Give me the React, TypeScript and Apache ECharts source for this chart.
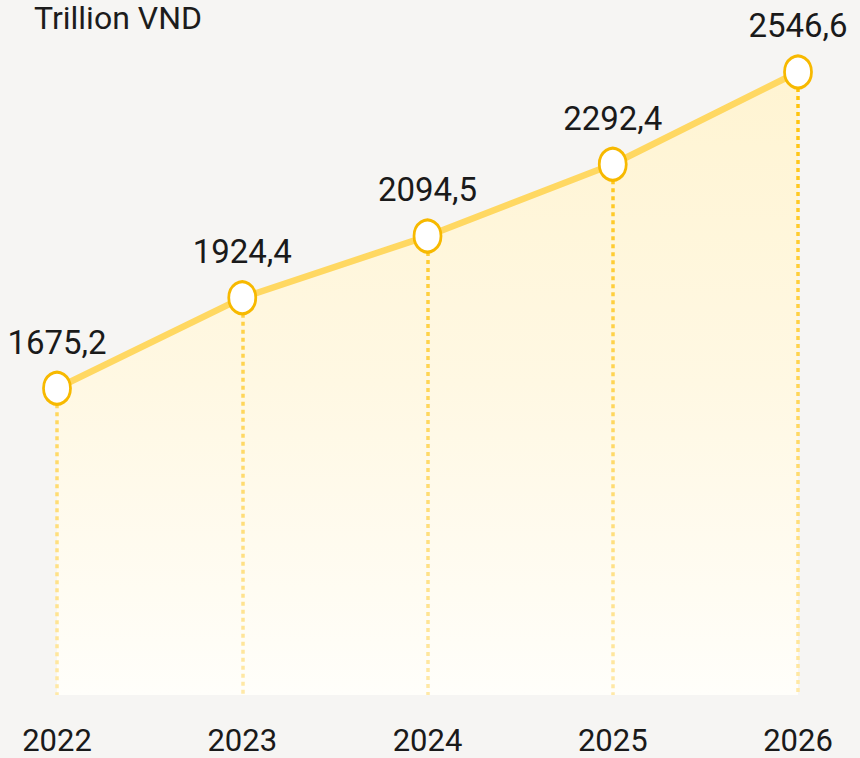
import React, { useEffect, useRef } from "react";
import * as echarts from "echarts";

const years = ["2022", "2023", "2024", "2025", "2026"];
const values = [1675.2, 1924.4, 2094.5, 2292.4, 2546.6];
const unitLabel = "Trillion VND";
const yMin = 830;
const yMax = 2600;

const FONT = "Roboto, 'Open Sans', sans-serif";

export default function App() {
  const ref = useRef<HTMLDivElement>(null);
  useEffect(() => {
    document.body.style.margin = "0";
    const chart = echarts.init(ref.current!, null, { renderer: "svg" });
    const fmt = (v: number) => v.toFixed(1).replace(".", ",");
    chart.setOption({
      animation: false,
      backgroundColor: "#F6F5F3",
      title: {
        text: unitLabel,
        left: 34,
        top: 0,
        padding: 0,
        textStyle: { fontFamily: FONT, fontSize: 32, lineHeight: 36, fontWeight: 400, color: "#1c1c1c" },
      },
      grid: { left: 57, right: 62, top: 52.6, bottom: 63, containLabel: false },
      xAxis: {
        type: "category",
        data: years,
        boundaryGap: false,
        axisLine: { show: false },
        axisTick: { show: false },
        splitLine: { show: false },
        axisLabel: {
          margin: 30,
          fontFamily: FONT,
          fontSize: 31,
          lineHeight: 31,
          color: "#1a1a1a",
        },
      },
      yAxis: {
        type: "value",
        min: yMin,
        max: yMax,
        show: false,
        splitLine: { show: false },
      },
      series: [
        {
          type: "line",
          data: values,
          symbol: "none",
          z: 0,
          lineStyle: { opacity: 0 },
          areaStyle: {
            color: new echarts.graphic.LinearGradient(0, 0, 0, 1, [
              { offset: 0, color: "#FFF4D2" },
              { offset: 0.5, color: "#FFF8E3" },
              { offset: 1, color: "#FFFEFA" },
            ]),
            opacity: 1,
          },
          markLine: {
            silent: true,
            z: 2,
            symbol: "none",
            label: { show: false },
            lineStyle: {
              color: new echarts.graphic.LinearGradient(
                0, 60, 0, 695,
                [
                  { offset: 0, color: "#FFC000" },
                  { offset: 1, color: "#FFE9A8" },
                ],
                true
              ),
              type: [4, 4],
              width: 3.5,
              opacity: 1,
            },
            data: years.map((y, i) => [
              { coord: [y, values[i]] },
              { coord: [y, yMin] },
            ]),
          },
        },
        {
          type: "line",
          data: values,
          symbol: "circle",
          symbolSize: [27, 32],
          showAllSymbol: true,
          z: 3,
          lineStyle: { color: "#FFD862", width: 6.5 },
          itemStyle: { color: "#ffffff", borderColor: "#F7B900", borderWidth: 3 },
          label: {
            show: true,
            position: "top",
            distance: 12,
            fontFamily: FONT,
            fontSize: 33,
            color: "#1a1a1a",
            formatter: (p: any) => fmt(p.value),
          },
        },
      ],
    });
    return () => chart.dispose();
  }, []);
  return <div ref={ref} style={{ width: 860, height: 758 }} />;
}
